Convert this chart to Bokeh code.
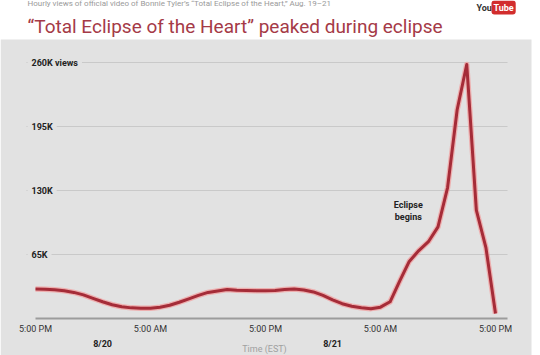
from bokeh.plotting import figure
from bokeh.models import Range1d
from bokeh.core.properties import value
from bokeh.embed import file_html
from bokeh.resources import INLINE

# ---- data (hourly views, thousands; hour 0 = 5:00 PM Aug 19 EST) ----
hours = list(range(49))
views_k = [30, 29.8, 29.2, 28.2, 26.5, 24, 20.5, 17, 14, 12, 10.8, 10.3, 10.5,
           11.5, 13.5, 16.5, 20, 23.5, 26.5, 28, 29.5, 28.8, 28.5, 28.3, 28.2,
           28.5, 29.5, 30, 29, 27, 23.5, 19, 15, 12.5, 11, 10, 11.5, 17, 38,
           58, 69, 78, 93, 133, 212, 258, 110, 72, 5]

y_ticks = [260, 195, 130, 65]
y_tick_labels = ["260K views", "195K", "130K", "65K"]
x_ticks = [0, 12, 24, 36, 48]
x_tick_labels = ["5:00 PM", "5:00 AM", "5:00 PM", "5:00 AM", "5:00 PM"]
date_pos = [7, 31]
date_labels = ["8/20", "8/21"]
title_text = "\u201cTotal Eclipse of the Heart\u201d peaked during eclipse"
subtitle_text = "Hourly views of official video of Bonnie Tyler\u2019s \u201cTotal Eclipse of the Heart,\u201d Aug. 19\u201321"
annot_hour = 38.9
annot_text = "Eclipse\nbegins"
x_title = "Time (EST)"

W, H = 540, 355
# pixel <-> data mapping for layout
X0PX, PXH = 35.0, 115.0 / 12.0
Y0PX, PXK = 318.0, 256.0 / 260.0
def tx(px):
    return (px - X0PX) / PXH
def vy(py):
    return (Y0PX - py) / PXK

p = figure(width=W, height=H, output_backend="svg", toolbar_location=None,
           x_range=Range1d(tx(0), tx(W)), y_range=Range1d(vy(H), vy(0)),
           min_border=0, background_fill_color="white", border_fill_color="white",
           outline_line_color=None)
p.axis.visible = False
p.grid.visible = False

# gray panel
p.quad(left=[tx(0)], right=[tx(531)], bottom=[vy(H)], top=[vy(39)],
       fill_color="#e2e2e2", line_color=None)

# gridlines
p.segment(x0=[tx(26)] * len(y_ticks), x1=[tx(507)] * len(y_ticks),
          y0=y_ticks, y1=y_ticks, line_color="#c9c9c9", line_width=1)
# y labels (background hides gridline start)
p.text(x=[tx(27)] * len(y_ticks), y=y_ticks, text=y_tick_labels,
       text_font=value("Roboto"), text_font_style="bold", text_font_size="9px",
       text_color="#222222", text_align="left", text_baseline="middle",
       background_fill_color="#e2e2e2", padding=4)

# baseline axis
p.segment(x0=[x_ticks[0]], x1=[tx(507)], y0=[0], y1=[0],
          line_color="#9c9c9c", line_width=2)

# line
p.line(hours, views_k, line_color="#f29a9a", line_width=5.5, line_alpha=0.7,
       line_join="round")
p.line(hours, views_k, line_color="#a52c38", line_width=3, line_join="round")

# x tick labels
p.text(x=x_ticks, y=[vy(328)] * len(x_ticks), text=x_tick_labels,
       text_font=value("Roboto"), text_font_size="9px", text_color="#333333",
       text_align="center", text_baseline="middle")
# dates
p.text(x=date_pos, y=[vy(343)] * len(date_pos), text=date_labels,
       text_font=value("Roboto"), text_font_style="bold", text_font_size="9px",
       text_color="#222222", text_align="center", text_baseline="middle")
# axis title
p.text(x=[tx(264)], y=[vy(348)], text=[x_title], text_font=value("Roboto"),
       text_font_size="9px", text_color="#a0a0a0", text_align="center",
       text_baseline="middle")

# annotation
p.text(x=[annot_hour], y=[vy(210.5)], text=[annot_text], text_font=value("Roboto"),
       text_font_style="bold", text_font_size="9px", text_color="#222222",
       text_align="center", text_baseline="middle", text_line_height=1.25)

# title
p.text(x=[tx(27)], y=[vy(26)], text=[title_text], text_font=value("Roboto"),
       text_font_size="19px", text_color="#a53a47", text_align="left",
       text_baseline="alphabetic")
# cut-off subtitle
p.text(x=[tx(27)], y=[vy(3)], text=[subtitle_text], text_font=value("Roboto"),
       text_font_size="8px", text_color="#9a9a9a", text_align="left",
       text_baseline="alphabetic")
# YouTube logo
p.text(x=[tx(476)], y=[vy(7)], text=["You"], text_font=value("Roboto"),
       text_font_style="bold", text_font_size="9px", text_color="#333333",
       text_align="left", text_baseline="alphabetic")
p.text(x=[tx(491)], y=[vy(7)], text=["Tube"], text_font=value("Roboto"),
       text_font_style="bold", text_font_size="9px", text_color="white",
       text_align="left", text_baseline="alphabetic",
       background_fill_color="#d22d2d", padding=2, border_radius=3)

open("out.html", "w").write(file_html(p, INLINE))
